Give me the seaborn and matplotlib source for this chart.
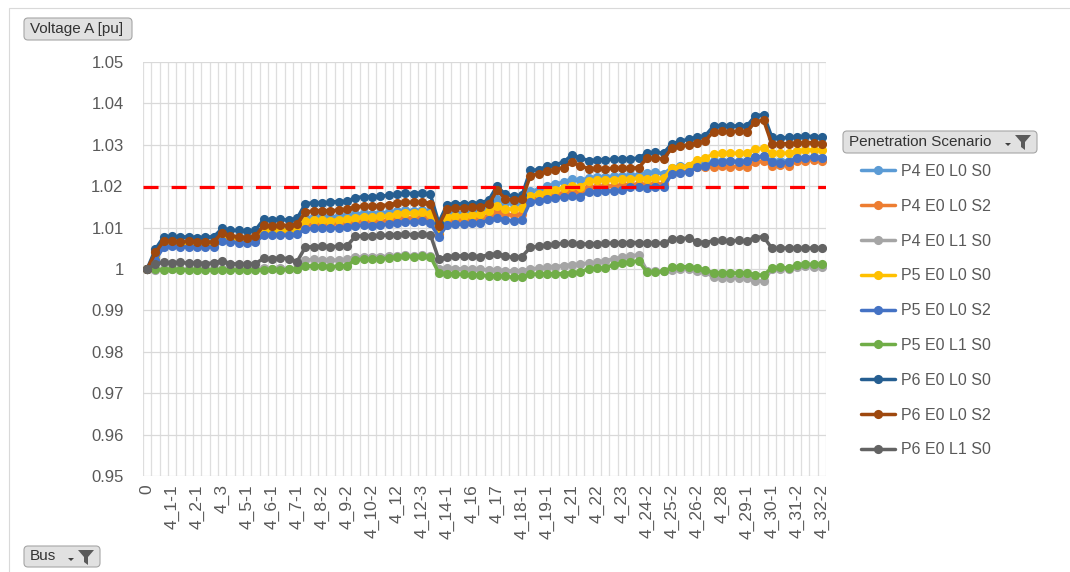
import matplotlib
matplotlib.use("Agg")
import matplotlib.pyplot as plt
from matplotlib.lines import Line2D
from matplotlib.patches import FancyBboxPatch, Polygon, Rectangle
from matplotlib.transforms import IdentityTransform
from matplotlib.ticker import FuncFormatter
import numpy as np
import pandas as pd
import seaborn as sns

W, H = 1070, 572

# bus names along the feeder (every 3rd one is labelled on the axis)
buses = [
    "0", "4_0", "4_1", "4_1-1", "4_1-2", "4_2", "4_2-1", "4_2-2", "4_2-3", "4_3",
    "4_4", "4_5", "4_5-1", "4_5-2", "4_6", "4_6-1", "4_6-2", "4_7", "4_7-1", "4_8",
    "4_8-1", "4_8-2", "4_9", "4_9-1", "4_9-2", "4_10", "4_10-1", "4_10-2", "4_11", "4_11-1",
    "4_12", "4_12-1", "4_12-2", "4_12-3", "4_13", "4_14", "4_14-1", "4_14-2", "4_15", "4_16",
    "4_16-1", "4_16-2", "4_17", "4_17-1", "4_18", "4_18-1", "4_18-2", "4_19", "4_19-1", "4_19-2",
    "4_20", "4_21", "4_21-1", "4_21-2", "4_22", "4_22-1", "4_22-2", "4_23", "4_24", "4_24-1",
    "4_24-2", "4_25", "4_25-1", "4_25-2", "4_26", "4_26-1", "4_26-2", "4_27", "4_27-1", "4_28",
    "4_28-1", "4_29", "4_29-1", "4_29-2", "4_30", "4_30-1", "4_31", "4_31-1", "4_31-2", "4_32",
    "4_32-1", "4_32-2",
]

p4_e0_l0_s0 = [
    1.0000,
    1.0030,
    1.0062, 1.0063, 1.0062, 1.0061, 1.0062, 1.0061, 1.0062,
    1.0080,
    1.0076, 1.0074, 1.0073, 1.0075,
    1.0098, 1.0097, 1.0099, 1.0098, 1.0100,
    1.0124, 1.0126, 1.0127, 1.0126, 1.0128, 1.0130,
    1.0133, 1.0135, 1.0134, 1.0136, 1.0137,
    1.0140, 1.0142, 1.0141, 1.0142, 1.0139,
    1.0098,
    1.0132, 1.0135, 1.0136, 1.0138, 1.0140, 1.0150,
    1.0170,
    1.0160, 1.0158, 1.0162,
    1.0188, 1.0192, 1.0200, 1.0205, 1.0210,
    1.0218, 1.0214,
    1.0220, 1.0222, 1.0223, 1.0224, 1.0225, 1.0226, 1.0228,
    1.0232, 1.0234, 1.0230,
    1.0245, 1.0248, 1.0250, 1.0255, 1.0256,
    1.0260, 1.0261, 1.0260, 1.0261, 1.0260,
    1.0270, 1.0272,
    1.0262, 1.0261, 1.0262, 1.0268, 1.0269, 1.0270, 1.0269,
]
p4_e0_l0_s2 = [
    1.0000,
    1.0025,
    1.0057, 1.0058, 1.0057, 1.0056, 1.0057, 1.0056, 1.0057,
    1.0072,
    1.0068, 1.0067, 1.0066, 1.0068,
    1.0088, 1.0087, 1.0088, 1.0087, 1.0090,
    1.0106, 1.0108, 1.0109, 1.0108, 1.0110, 1.0111,
    1.0114, 1.0116, 1.0115, 1.0117, 1.0118,
    1.0122, 1.0124, 1.0123, 1.0125, 1.0121,
    1.0085,
    1.0116, 1.0118, 1.0119, 1.0120, 1.0122, 1.0128,
    1.0138,
    1.0132, 1.0130, 1.0133,
    1.0170, 1.0172, 1.0176, 1.0180, 1.0184,
    1.0188, 1.0186,
    1.0198, 1.0199, 1.0200, 1.0201, 1.0202, 1.0204, 1.0205,
    1.0204, 1.0206, 1.0205,
    1.0232, 1.0234, 1.0236, 1.0246, 1.0247,
    1.0247, 1.0248, 1.0247, 1.0248, 1.0247,
    1.0258, 1.0260,
    1.0250, 1.0251, 1.0250, 1.0261, 1.0262, 1.0263, 1.0262,
]
p4_e0_l1_s0 = [
    1.0000,
    0.9998,
    1.0000, 0.9999, 1.0000, 0.9999, 0.9999, 1.0000, 0.9999,
    1.0000,
    1.0000, 0.9999, 0.9999, 1.0000,
    1.0002, 1.0001, 1.0002, 1.0001, 1.0000,
    1.0022, 1.0023, 1.0022, 1.0021, 1.0022, 1.0023,
    1.0028, 1.0029, 1.0030, 1.0030, 1.0031,
    1.0032, 1.0033, 1.0032, 1.0033, 1.0032,
    1.0000,
    1.0003, 1.0001, 1.0000, 1.0000, 0.9999, 0.9998,
    0.9998,
    0.9996, 0.9995, 0.9996,
    1.0000, 1.0002, 1.0004, 1.0006, 1.0008,
    1.0010, 1.0012,
    1.0014, 1.0016, 1.0020, 1.0024, 1.0028, 1.0032, 1.0034,
    0.9996, 0.9995, 0.9996,
    0.9998, 1.0000, 1.0001, 0.9995, 0.9993,
    0.9980, 0.9979, 0.9979, 0.9978, 0.9978,
    0.9972, 0.9970,
    1.0000, 1.0001, 0.9999, 1.0006, 1.0008, 1.0005, 1.0006,
]
p5_e0_l0_s0 = [
    1.0000,
    1.0028,
    1.0060, 1.0061, 1.0060, 1.0059, 1.0060, 1.0059, 1.0060,
    1.0077,
    1.0072, 1.0071, 1.0070, 1.0072,
    1.0094, 1.0093, 1.0094, 1.0093, 1.0096,
    1.0116, 1.0118, 1.0118, 1.0117, 1.0119, 1.0120,
    1.0124, 1.0126, 1.0125, 1.0127, 1.0128,
    1.0134, 1.0136, 1.0135, 1.0137, 1.0133,
    1.0092,
    1.0126, 1.0128, 1.0129, 1.0130, 1.0132, 1.0140,
    1.0152,
    1.0146, 1.0144, 1.0147,
    1.0176, 1.0180, 1.0186, 1.0192, 1.0196,
    1.0200, 1.0198,
    1.0212, 1.0214, 1.0215, 1.0216, 1.0217, 1.0218, 1.0219,
    1.0218, 1.0220, 1.0219,
    1.0244, 1.0246, 1.0250, 1.0264, 1.0268,
    1.0278, 1.0279, 1.0280, 1.0279, 1.0280,
    1.0290, 1.0292,
    1.0280, 1.0279, 1.0280, 1.0286, 1.0287, 1.0288, 1.0287,
]
p5_e0_l0_s2 = [
    1.0000,
    1.0022,
    1.0054, 1.0055, 1.0054, 1.0053, 1.0054, 1.0053, 1.0054,
    1.0068,
    1.0065, 1.0064, 1.0063, 1.0065,
    1.0082, 1.0081, 1.0082, 1.0081, 1.0084,
    1.0096, 1.0098, 1.0099, 1.0098, 1.0100, 1.0101,
    1.0104, 1.0106, 1.0105, 1.0107, 1.0108,
    1.0112, 1.0114, 1.0113, 1.0115, 1.0111,
    1.0078,
    1.0106, 1.0108, 1.0109, 1.0110, 1.0112, 1.0118,
    1.0122,
    1.0118, 1.0117, 1.0119,
    1.0162, 1.0164, 1.0168, 1.0172, 1.0174,
    1.0176, 1.0175,
    1.0186, 1.0187, 1.0188, 1.0189, 1.0190, 1.0197, 1.0199,
    1.0196, 1.0199, 1.0198,
    1.0230, 1.0232, 1.0234, 1.0246, 1.0248,
    1.0258, 1.0259, 1.0260, 1.0259, 1.0260,
    1.0270, 1.0272,
    1.0258, 1.0257, 1.0258, 1.0268, 1.0269, 1.0270, 1.0269,
]
p5_e0_l1_s0 = [
    1.0000,
    0.9999,
    0.9998, 0.9999, 0.9998, 0.9997, 0.9998, 0.9997, 0.9998,
    0.9997,
    0.9998, 0.9997, 0.9998, 0.9997,
    0.9998, 0.9999, 0.9998, 0.9999, 1.0000,
    1.0008, 1.0007, 1.0008, 1.0006, 1.0007, 1.0008,
    1.0022, 1.0024, 1.0023, 1.0025, 1.0026,
    1.0030, 1.0031, 1.0030, 1.0031, 1.0030,
    0.9991,
    0.9989, 0.9988, 0.9987, 0.9986, 0.9985, 0.9984,
    0.9984,
    0.9982, 0.9980, 0.9981,
    0.9987, 0.9988, 0.9989, 0.9988, 0.9989,
    0.9991, 0.9992,
    1.0001, 1.0002, 1.0003, 1.0010, 1.0014, 1.0018, 1.0019,
    0.9993, 0.9992, 0.9994,
    1.0004, 1.0005, 1.0006, 1.0003, 0.9997,
    0.9991, 0.9990, 0.9991, 0.9990, 0.9991,
    0.9986, 0.9985,
    1.0003, 1.0004, 1.0002, 1.0010, 1.0012, 1.0011, 1.0012,
]
p6_e0_l0_s0 = [
    1.0000,
    1.0048,
    1.0078, 1.0079, 1.0077, 1.0078, 1.0076, 1.0077, 1.0078,
    1.0098,
    1.0093, 1.0094, 1.0092, 1.0094,
    1.0120, 1.0119, 1.0120, 1.0118, 1.0122,
    1.0158, 1.0160, 1.0159, 1.0162, 1.0163, 1.0164,
    1.0172, 1.0175, 1.0174, 1.0176, 1.0178,
    1.0181, 1.0183, 1.0182, 1.0184, 1.0180,
    1.0112,
    1.0155, 1.0158, 1.0157, 1.0158, 1.0160, 1.0166,
    1.0200,
    1.0180, 1.0176, 1.0178,
    1.0238, 1.0240, 1.0248, 1.0252, 1.0258,
    1.0276, 1.0268,
    1.0262, 1.0263, 1.0264, 1.0265, 1.0266, 1.0266, 1.0268,
    1.0280, 1.0282, 1.0280,
    1.0303, 1.0308, 1.0314, 1.0318, 1.0322,
    1.0345, 1.0346, 1.0345, 1.0346, 1.0345,
    1.0370, 1.0373,
    1.0318, 1.0316, 1.0318, 1.0319, 1.0321, 1.0320, 1.0318,
]
p6_e0_l0_s2 = [
    1.0000,
    1.0040,
    1.0068, 1.0068, 1.0066, 1.0067, 1.0066, 1.0065, 1.0066,
    1.0088,
    1.0080, 1.0078, 1.0076, 1.0079,
    1.0106, 1.0104, 1.0106, 1.0105, 1.0108,
    1.0138, 1.0140, 1.0141, 1.0140, 1.0143, 1.0144,
    1.0150, 1.0152, 1.0151, 1.0153, 1.0155,
    1.0160, 1.0162, 1.0161, 1.0162, 1.0158,
    1.0105,
    1.0145, 1.0148, 1.0147, 1.0149, 1.0150, 1.0156,
    1.0190,
    1.0170, 1.0166, 1.0168,
    1.0225, 1.0230, 1.0236, 1.0240, 1.0245,
    1.0258, 1.0250,
    1.0242, 1.0243, 1.0242, 1.0243, 1.0244, 1.0243, 1.0245,
    1.0267, 1.0268, 1.0266,
    1.0292, 1.0296, 1.0300, 1.0304, 1.0310,
    1.0332, 1.0333, 1.0332, 1.0333, 1.0332,
    1.0355, 1.0360,
    1.0302, 1.0302, 1.0303, 1.0304, 1.0305, 1.0305, 1.0303,
]
p6_e0_l1_s0 = [
    1.0000,
    1.0012,
    1.0016, 1.0015, 1.0016, 1.0014, 1.0015, 1.0013, 1.0015,
    1.0020,
    1.0013, 1.0012, 1.0011, 1.0013,
    1.0026, 1.0025, 1.0027, 1.0025, 1.0018,
    1.0053, 1.0054, 1.0055, 1.0054, 1.0055, 1.0056,
    1.0079, 1.0080, 1.0080, 1.0081, 1.0082,
    1.0083, 1.0084, 1.0083, 1.0084, 1.0083,
    1.0024,
    1.0030, 1.0031, 1.0032, 1.0031, 1.0030, 1.0034,
    1.0037,
    1.0031, 1.0028, 1.0030,
    1.0052, 1.0055, 1.0058, 1.0060, 1.0062,
    1.0062, 1.0061,
    1.0060, 1.0061, 1.0062, 1.0063, 1.0063, 1.0064, 1.0064,
    1.0062, 1.0063, 1.0062,
    1.0072, 1.0073, 1.0075, 1.0066, 1.0064,
    1.0068, 1.0069, 1.0068, 1.0069, 1.0068,
    1.0076, 1.0078,
    1.0050, 1.0050, 1.0051, 1.0050, 1.0050, 1.0051, 1.0050,
]

scenarios = ["P4 E0 L0 S0", "P4 E0 L0 S2", "P4 E0 L1 S0",
             "P5 E0 L0 S0", "P5 E0 L0 S2", "P5 E0 L1 S0",
             "P6 E0 L0 S0", "P6 E0 L0 S2", "P6 E0 L1 S0"]
series = [p4_e0_l0_s0, p4_e0_l0_s2, p4_e0_l1_s0,
          p5_e0_l0_s0, p5_e0_l0_s2, p5_e0_l1_s0,
          p6_e0_l0_s0, p6_e0_l0_s2, p6_e0_l1_s0]
colors = ["#5B9BD5", "#ED7D31", "#A5A5A5", "#FFC000", "#4472C4",
          "#70AD47", "#255E91", "#9E480E", "#636363"]
limit_pu = 1.0197

df = pd.DataFrame({
    "Bus": buses * len(scenarios),
    "Voltage": np.concatenate(series),
    "Scenario": np.repeat(scenarios, len(buses)),
})
df["Bus"] = pd.Categorical(df["Bus"], categories=buses, ordered=True)

sns.set_style("white")
plt.rcParams["font.family"] = ["Liberation Sans", "DejaVu Sans"]

fig = plt.figure(figsize=(W / 100, H / 100), dpi=100)
ax = fig.add_axes([143 / W, 1 - 476 / H, 683 / W, 414 / H])

sns.lineplot(data=df, x="Bus", y="Voltage", hue="Scenario", hue_order=scenarios,
             palette=dict(zip(scenarios, colors)), marker="o", markersize=6.6,
             markeredgewidth=0, linewidth=2.5, sort=False, errorbar=None,
             legend=False, ax=ax, zorder=3)

ax.axhline(limit_pu, color="#FF0000", lw=2.3, ls=(0, (4.7, 4.1)), zorder=4)

ax.set_xlim(-0.5, len(buses) - 0.5)
ax.set_ylim(0.95, 1.05)
ax.set_xticks(range(0, len(buses), 3))
ax.set_xticklabels(buses[::3], rotation=90)
ax.set_xticks(np.arange(-0.5, len(buses), 1), minor=True)
ax.set_yticks(np.arange(0.95, 1.0501, 0.01))
ax.yaxis.set_major_formatter(FuncFormatter(lambda v, p: f"{v:.2f}".rstrip("0").rstrip(".")))
ax.grid(False)
ax.grid(True, which="major", axis="y", color="#D9D9D9", lw=0.9, zorder=0)
ax.grid(True, which="minor", axis="x", color="#DEDEDE", lw=0.9, zorder=0)
ax.set_axisbelow(True)
for s in ax.spines.values():
    s.set_visible(False)
ax.tick_params(axis="both", which="both", length=0, labelcolor="#595959")
ax.tick_params(axis="y", pad=14, labelsize=12)
ax.tick_params(axis="x", pad=6, labelsize=12.5)
ax.set_xlabel("")
ax.set_ylabel("")

handles = [Line2D([], [], color=c, lw=2.5, marker="o", markersize=6.6, markeredgewidth=0)
           for c in colors]
fig.legend(handles, scenarios, loc="upper left", bbox_to_anchor=(861 / W, 1 - 164 / H),
           frameon=False, fontsize=11.5, labelcolor="#595959", handlelength=2.15,
           handletextpad=0.35, labelspacing=1.24, borderpad=0, borderaxespad=0)

# chart frame (only left/top edges visible in the screenshot)
fig.add_artist(Rectangle((9, -20), W + 40, H - 8 + 20, fill=False, ec="#D9D9D9",
                         lw=0.8, transform=IdentityTransform()))


def funnel(cx, ty):
    pts = [(cx - 8, ty), (cx + 8, ty), (cx + 2, ty + 7), (cx + 2, ty + 15),
           (cx - 2, ty + 12), (cx - 2, ty + 7)]
    fig.add_artist(Polygon([(x, H - y) for x, y in pts], closed=True, fc="#5A5A5A",
                           ec="none", transform=IdentityTransform()))
    tri = [(cx - 18, ty + 8), (cx - 12, ty + 8), (cx - 15, ty + 11)]
    fig.add_artist(Polygon([(x, H - y) for x, y in tri], closed=True, fc="#404040",
                           ec="none", transform=IdentityTransform()))


def button(x0, y0, x1, y1, label, icon=False):
    fig.add_artist(FancyBboxPatch((x0, H - y1), x1 - x0, y1 - y0,
                                  boxstyle="round,pad=0,rounding_size=4",
                                  fc="#E1E1E1", ec="#A6A6A6", lw=0.8,
                                  transform=IdentityTransform()))
    fig.text((x0 + 6) / W, 1 - (y0 + y1) / 2 / H, label, ha="left", va="center",
             fontsize=11, color="#333333")
    if icon:
        funnel(x1 - 14, y0 + 4)


button(24, 18, 132, 40, "Voltage A [pu]")
button(843, 131, 1037, 153, "Penetration Scenario", icon=True)
button(24, 546, 100, 567, "Bus", icon=True)

fig.savefig("out.png", dpi=100)
